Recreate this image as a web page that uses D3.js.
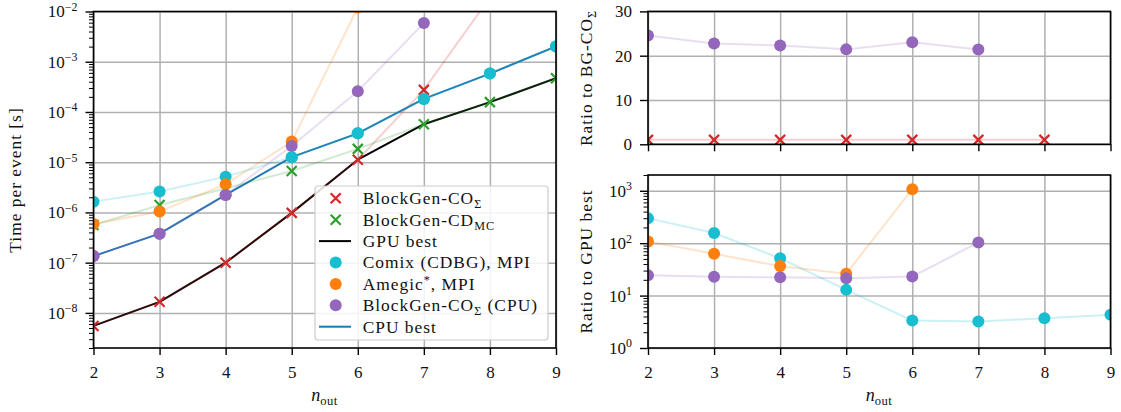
<!DOCTYPE html>
<html>
<head>
<meta charset="utf-8">
<script src="https://d3js.org/d3.v7.min.js"></script>
<style>
  body { margin: 0; background: #fff; }
  text { font-family: "Liberation Serif", serif; fill: #111; }
  .lbl { font-size: 17.4px; letter-spacing: 1px; }
</style>
</head>
<body>
<svg width="1121" height="412"></svg>
<script>
  // multiplicities
  const nOut = [2, 3, 4, 5, 6, 7, 8, 9];
  // time per event [s], starting at n_out = 2
  const tCOSigma    = [5.5e-9, 1.66e-8, 1.0e-7, 9.8e-7, 1.12e-5, 2.75e-4, 1.9e-2];
  const tCDMC       = [5.6e-7, 1.4e-6, 3.0e-6, 6.7e-6, 1.84e-5, 5.7e-5, 1.57e-4, 4.7e-4];
  const tComix      = [1.64e-6, 2.6e-6, 5.16e-6, 1.26e-5, 3.75e-5, 1.82e-4, 5.8e-4, 2.02e-3];
  const tAmegic     = [5.9e-7, 1.04e-6, 3.65e-6, 2.57e-5, 1.2e-2];
  const tCOSigmaCPU = [1.35e-7, 3.78e-7, 2.23e-6, 2.1e-5, 2.58e-4, 5.88e-3];

  const timeTicks = [1e-8, 1e-7, 1e-6, 1e-5, 1e-4, 1e-3, 1e-2];
  const ratioTicks = [0, 10, 20, 30];
  const ratioLogTicks = [1, 10, 100, 1000];

  const C = {
    red: "#d62728", green: "#2ca02c", cyan: "#17becf",
    orange: "#ff7f0e", purple: "#9467bd", blue: "#1f77b4"
  };

  const svg = d3.select("svg");

  const pts = vals => vals.map((v, i) => ({ n: nOut[i], v: v }));
  // pick the fastest of several series for each n
  function best(list) {
    const out = [];
    nOut.forEach((n, i) => {
      let b = null;
      list.forEach(s => {
        const v = s.vals[i];
        if (v !== undefined && (b === null || v < b.v)) b = { n: n, v: v, color: s.color, marker: s.marker };
      });
      if (b) out.push(b);
    });
    return out;
  }

  const redS    = { vals: tCOSigma, color: C.red, marker: "x" };
  const greenS  = { vals: tCDMC, color: C.green, marker: "x" };
  const cyanS   = { vals: tComix, color: C.cyan, marker: "o" };
  const orangeS = { vals: tAmegic, color: C.orange, marker: "o" };
  const purpleS = { vals: tCOSigmaCPU, color: C.purple, marker: "o" };

  const gpuBest = best([redS, greenS]);
  const cpuBest = best([cyanS, orangeS, purpleS]);

  function ratio(vals, ref) {
    return vals.map((v, i) => ({ n: nOut[i], v: v / ref[i].v }));
  }

  function minorLog(domain) {
    const out = [];
    for (let e = Math.floor(Math.log10(domain[0])); e <= Math.ceil(Math.log10(domain[1])); e++) {
      for (let k = 2; k <= 9; k++) {
        const v = k * Math.pow(10, e);
        if (v >= domain[0] && v <= domain[1]) out.push(v);
      }
    }
    return out;
  }

  function sup10(sel) {
    sel.each(function(d) {
      const t = d3.select(this);
      const e = Math.round(Math.log10(d));
      t.text(null);
      t.append("tspan").text("10");
      t.append("tspan").attr("dy", "-0.55em").attr("font-size", "0.7em")
        .text(String(e).replace("-", "\u2212"));
    });
  }

  let clipId = 0;
  function panel(x, y, yTicks, isLog, showX) {
    const [x0, x1] = x.range();
    const [y1, y0] = y.range();
    const g = svg.append("g");
    const id = "clip" + (clipId++);
    g.append("clipPath").attr("id", id).append("rect")
      .attr("x", x0).attr("y", y0).attr("width", x1 - x0).attr("height", y1 - y0);

    // grid
    g.append("g").attr("transform", `translate(0,${y1})`)
      .call(d3.axisBottom(x).tickValues(nOut).tickSize(-(y1 - y0)).tickFormat(""))
      .call(a => a.select(".domain").remove());
    g.append("g").attr("transform", `translate(${x0},0)`)
      .call(d3.axisLeft(y).tickValues(yTicks).tickSize(-(x1 - x0)).tickFormat(""))
      .call(a => a.select(".domain").remove());
    g.selectAll("line").attr("stroke", "#b0b0b0").attr("stroke-width", 1.5);

    const plot = g.append("g").attr("clip-path", `url(#${id})`);
    const frame = svg.append("g");

    // ticks and spines
    const xa = frame.append("g").attr("transform", `translate(0,${y1})`)
      .call(d3.axisBottom(x).tickValues(nOut).tickSize(7).tickPadding(11)
        .tickFormat(showX ? d3.format("d") : ""));
    const ya = frame.append("g").attr("transform", `translate(${x0},0)`)
      .call(d3.axisLeft(y).tickValues(yTicks).tickSize(8).tickPadding(8)
        .tickFormat(isLog ? "" : d3.format("d")));
    if (isLog) {
      ya.selectAll(".tick text").call(sup10);
      frame.append("g").attr("transform", `translate(${x0},0)`)
        .call(d3.axisLeft(y).tickValues(minorLog(y.domain())).tickSize(4.5).tickFormat(""))
        .call(a => a.select(".domain").remove())
        .selectAll("line").attr("stroke-width", 1);
    }
    [xa, ya].forEach(a => {
      a.select(".domain").remove();
      a.selectAll(".tick line").attr("stroke", "#000").attr("stroke-width", 1.4);
      a.selectAll("text").attr("font-size", 17).attr("fill", "#111")
        .attr("font-family", "Liberation Serif, serif");
    });
    frame.append("rect").attr("x", x0).attr("y", y0).attr("width", x1 - x0).attr("height", y1 - y0)
      .attr("fill", "none").attr("stroke", "#000").attr("stroke-width", 1.6);

    return plot;
  }

  function lineOf(plot, x, y, data, color, width, opacity) {
    plot.append("path").datum(data)
      .attr("d", d3.line().x(d => x(d.n)).y(d => y(d.v)))
      .attr("fill", "none").attr("stroke", color)
      .attr("stroke-width", width).attr("stroke-opacity", opacity)
      .attr("stroke-linejoin", "round");
  }

  function markers(plot, x, y, data, color, marker) {
    data.forEach(d => {
      const px = x(d.n), py = y(d.v);
      const c = d.color || color, m = d.marker || marker;
      if (m === "o") {
        plot.append("circle").attr("cx", px).attr("cy", py).attr("r", 6).attr("fill", c);
      } else {
        plot.append("path").attr("transform", `translate(${px},${py})`)
          .attr("d", "M-5,-5L5,5M-5,5L5,-5")
          .attr("stroke", c).attr("stroke-width", 2.2).attr("fill", "none");
      }
    });
  }

  // ---------- left: time per event ----------
  const xL = d3.scaleLinear().domain([2, 9]).range([93.5, 556]);
  const yL = d3.scaleLog().domain([2e-9, 1e-2]).range([348, 11.5]);
  const pL = panel(xL, yL, timeTicks, true, true);

  lineOf(pL, xL, yL, gpuBest, "#000", 2, 1);
  lineOf(pL, xL, yL, cpuBest, C.blue, 2, 1);
  [redS, greenS, cyanS, orangeS, purpleS].forEach(s =>
    lineOf(pL, xL, yL, pts(s.vals), s.color, 2, 0.22));
  [redS, greenS, cyanS, orangeS, purpleS].forEach(s =>
    markers(pL, xL, yL, pts(s.vals), s.color, s.marker));
  markers(pL, xL, yL, cpuBest);

  // ---------- right top: ratio to BG-CO_Sigma ----------
  const xR = d3.scaleLinear().domain([2, 9]).range([648, 1110.5]);
  const yRT = d3.scaleLinear().domain([0, 30]).range([144.3, 11.4]);
  const pRT = panel(xR, yRT, ratioTicks, false, false);
  const refCO = pts(tCOSigma);
  const rRed = ratio(tCOSigma, refCO);
  const rPurple = ratio(tCOSigmaCPU, refCO);
  lineOf(pRT, xR, yRT, rRed, C.red, 2, 0.22);
  lineOf(pRT, xR, yRT, rPurple, C.purple, 2, 0.22);
  markers(pRT, xR, yRT, rRed, C.red, "x");
  markers(pRT, xR, yRT, rPurple, C.purple, "o");

  // ---------- right bottom: ratio to GPU best ----------
  const yRB = d3.scaleLog().domain([1, 2000]).range([348, 175]);
  const pRB = panel(xR, yRB, ratioLogTicks, true, true);
  [cyanS, orangeS, purpleS].forEach(s => {
    const r = ratio(s.vals, gpuBest);
    lineOf(pRB, xR, yRB, r, s.color, 2, 0.22);
    markers(pRB, xR, yRB, r, s.color, "o");
  });

  // ---------- axis labels ----------
  function xLabel(cx) {
    const t = svg.append("text").attr("x", cx).attr("y", 401)
      .attr("text-anchor", "middle").attr("font-size", 18);
    t.append("tspan").attr("font-style", "italic").text("n");
    t.append("tspan").attr("font-size", "0.7em").attr("dy", "0.35em").attr("letter-spacing", 0.5).text("out");
  }
  xLabel(324.5);
  xLabel(879);

  svg.append("text").attr("class", "lbl").attr("transform", "translate(21,180) rotate(-90)")
    .attr("text-anchor", "middle").text("Time per event [s]");
  const lt = svg.append("text").attr("class", "lbl").attr("transform", "translate(592,78) rotate(-90)")
    .attr("text-anchor", "middle");
  lt.append("tspan").text("Ratio to BG-CO");
  lt.append("tspan").attr("font-size", "0.7em").attr("dy", "0.3em").text("\u03A3");
  svg.append("text").attr("class", "lbl").attr("transform", "translate(592,261.5) rotate(-90)")
    .attr("text-anchor", "middle").text("Ratio to GPU best");

  // ---------- legend ----------
  const legendItems = [
    { parts: [["BlockGen-CO"], ["\u03A3", "sub"]], color: C.red, kind: "x" },
    { parts: [["BlockGen-CD"], ["MC", "sub"]], color: C.green, kind: "x" },
    { parts: [["GPU best"]], color: "#000", kind: "line" },
    { parts: [["Comix (CDBG), MPI"]], color: C.cyan, kind: "o" },
    { parts: [["Amegic"], ["*", "sup"], [", MPI"]], color: C.orange, kind: "o" },
    { parts: [["BlockGen-CO"], ["\u03A3", "sub"], [" (CPU)"]], color: C.purple, kind: "o" },
    { parts: [["CPU best"]], color: C.blue, kind: "line" }
  ];
  const lg = svg.append("g");
  lg.append("rect").attr("x", 315).attr("y", 186).attr("width", 233).attr("height", 154)
    .attr("rx", 3).attr("fill", "#fff").attr("fill-opacity", 0.85)
    .attr("stroke", "#cccccc").attr("stroke-width", 1.2);
  legendItems.forEach((it, i) => {
    const cy = 198.3 + i * 21.4;
    if (it.kind === "line") {
      lg.append("line").attr("x1", 319).attr("x2", 351).attr("y1", cy).attr("y2", cy)
        .attr("stroke", it.color).attr("stroke-width", 2);
    } else if (it.kind === "o") {
      lg.append("circle").attr("cx", 335.7).attr("cy", cy).attr("r", 6).attr("fill", it.color);
    } else {
      lg.append("path").attr("transform", `translate(335.7,${cy})`)
        .attr("d", "M-5,-5L5,5M-5,5L5,-5").attr("stroke", it.color)
        .attr("stroke-width", 2.2).attr("fill", "none");
    }
    const t = lg.append("text").attr("class", "lbl").attr("x", 362.7).attr("y", cy + 5.8);
    let shift = 0;
    it.parts.forEach(p => {
      const s = t.append("tspan").text(p[0]);
      if (p[1] === "sub") { s.attr("font-size", "0.7em").attr("dy", 4 - shift); shift = 4; }
      else if (p[1] === "sup") { s.attr("font-size", "0.7em").attr("dy", -6 - shift); shift = -6; }
      else if (shift !== 0) { s.attr("dy", -shift); shift = 0; }
    });
  });
</script>
</body>
</html>
